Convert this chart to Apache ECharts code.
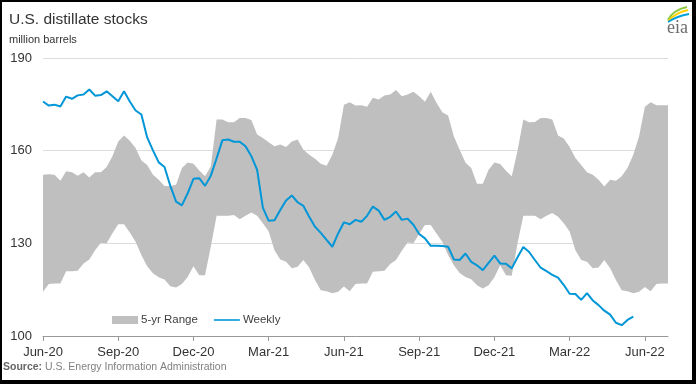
<!DOCTYPE html>
<html><head><meta charset="utf-8">
<script src="https://cdn.jsdelivr.net/npm/echarts@6/dist/echarts.min.js"></script>
<style>
html,body{margin:0;padding:0;background:#fff}
#c{width:696px;height:384px;position:absolute;left:0;top:0}
#f{position:absolute;left:0;top:0;width:696px;height:384px;box-sizing:border-box;border-style:solid;border-color:#000;border-width:2px 4px 4px 2px;pointer-events:none}
</style>
</head><body><div id="c"></div><div id="f"></div>
<script>
const tickLabels = ['Jun-20','Sep-20','Dec-20','Mar-21','Jun-21','Sep-21','Dec-21','Mar-22','Jun-22'];

const weekly = [
175.9,174.6,174.9,174.3,177.5,176.8,177.9,178.2,179.8,177.8,
178,179.2,177.6,176,179.2,175.9,173,171.7,164.3,160.1,
156.2,154.7,148.6,143.5,142.3,146.2,150.9,151.1,148.6,151.9,
157.5,163.4,163.6,162.9,162.9,161.4,158.2,153.8,141.5,137.3,
137.5,140.8,143.9,145.5,143.3,142.1,138.6,135.4,133.4,131.1,
128.9,133.2,136.8,136.2,137.6,137,138.9,141.9,140.6,137.6,
138.6,140.3,137.6,138,136,133,131.6,129.2,129.2,129.1,
128.9,124.8,124.6,126.7,124,122.9,121.3,123.7,126,123.5,
123.4,121.9,125.5,128.8,127.2,124.6,122.1,121,119.8,118.9,
116.5,113.7,113.6,111.7,113.9,111.5,110,108.2,106.9,104.3,
103.5,105.2,106.3
];

const rangeHigh = [
152.2,152.4,152.2,150.3,153.3,153,151.9,153,151.3,153,
153,154.7,158.2,163,164.9,163.2,160.9,156.8,155.4,152.2,
150.6,148.6,148.6,149,154.4,156.2,155.8,153.6,151.7,154.9,
170.1,170.1,169.2,169.2,170.6,170.6,169.9,165.2,164.1,162.7,
161.4,162,161.2,163,163.6,160.3,158.7,157.4,155.8,155.1,
158.7,164.1,174.9,175.7,174.6,174.7,174.2,177.1,176.6,177.9,
178.2,179.6,177.6,178.2,179.1,177.6,175.8,179.1,175.5,172.4,
171.4,164.6,160.3,156.2,154.4,149.3,149.3,153.8,156.2,155.7,
153.5,151.7,160,170.1,169.2,169.3,170.6,170.6,170.1,164.9,
163.9,161.2,157.6,155.4,153,152.2,150.6,148.4,150.6,150.3,
151.7,154.4,158.7,164.6,174.2,175.7,174.7,174.7,174.7
];

const rangeLow = [
114.3,116.8,117,117,121,121,121.1,123.5,124.8,127.8,
130.2,130,133.3,136.2,136.2,133.5,130.5,126.2,122.6,120.3,
119,118.3,116.1,115.7,116.8,119.1,122.6,119.7,119.7,129,
138.9,138.9,138.9,139.2,137.8,138.9,140,138.9,136.5,133.8,
127.8,124.8,124,121.9,122.4,124.6,122.2,118.1,114.8,114.5,
113.8,114.3,116,114.5,116.8,117,117,120.8,121,121.1,
123.3,124.6,127.6,130.3,130,133,135.9,135.9,133.2,130.5,
126.2,122.9,120.4,119.1,118.4,116.4,115.4,116.4,119,122.9,
119.7,119.5,130,138.9,138.9,138.9,137.8,138.9,139.8,138.6,
136.5,133.8,127.8,124.6,124,121.9,122.2,124.6,121.9,118.1,
114.8,114.5,113.8,114.3,115.9,114.5,116.8,117,117
];

const weeks = rangeLow.map((_, i) => String(i));
const bandWidth = rangeHigh.map((h, i) => +(h - rangeLow[i]).toFixed(2));

const FONT = '"Liberation Sans", Arial, sans-serif';
const chart = echarts.init(document.getElementById('c'), null, {renderer: 'canvas'});
chart.setOption({
  animation: false,
  backgroundColor: '#fff',
  textStyle: {fontFamily: FONT},
  title: [
    {text: 'U.S. distillate stocks', left: 9, top: 12, padding: 0,
     textStyle: {fontSize: 15.5, fontWeight: 'normal', color: '#333', fontFamily: FONT}},
    {text: 'million barrels', left: 9, top: 34, padding: 0,
     textStyle: {fontSize: 11, fontWeight: 'normal', color: '#333', fontFamily: FONT}}
  ],
  legend: {
    data: [
      {name: '5-yr Range', icon: 'rect'},
      {name: 'Weekly', icon: 'path://M0,0 M0,3.2 L26,3.2 L26,4.8 L0,4.8 Z M26,8',
       itemStyle: {color: '#0096d7'}}
    ],
    left: 112, top: 314, itemWidth: 26, itemHeight: 8, itemGap: 16,
    padding: 0,
    textStyle: {fontSize: 11.5, color: '#404040', fontFamily: FONT, padding: [0, 0, 0, -2]}
  },
  grid: {left: 43, right: 28, top: 58, bottom: 48, containLabel: false, outerBoundsMode: 'none'},
  xAxis: {
    type: 'category', boundaryGap: false, data: weeks,
    axisLine: {lineStyle: {color: '#999', width: 1}},
    axisTick: {show: true, interval: 12, length: 5, lineStyle: {color: '#999'}},
    axisLabel: {interval: 12, margin: 10, fontSize: 13, color: '#333', fontFamily: FONT,
      formatter: (v, i) => tickLabels[i / 13] || ''},
    splitLine: {show: false}
  },
  yAxis: {
    type: 'value', min: 100, max: 190, interval: 30,
    axisLine: {show: false}, axisTick: {show: false},
    axisLabel: {fontSize: 13, color: '#333', margin: 11, fontFamily: FONT},
    splitLine: {lineStyle: {color: '#dcdcdc', width: 1}}
  },
  series: [
    {name: 'low', type: 'line', stack: 'band', data: rangeLow, symbol: 'none',
     lineStyle: {opacity: 0}, silent: true},
    {name: '5-yr Range', type: 'line', stack: 'band', data: bandWidth, symbol: 'none',
     itemStyle: {color: '#bfbfbf'}, lineStyle: {opacity: 0, width: 0},
     areaStyle: {color: '#bfbfbf', opacity: 1}, silent: true},
    {name: 'Weekly', type: 'line', data: weekly, symbol: 'none', z: 5,
     itemStyle: {color: '#0096d7'}, lineStyle: {color: '#0096d7', width: 2}}
  ],
  graphic: [
    {type: 'text', left: 3, top: 362,
     style: {text: '{b|Source:} U.S. Energy Information Administration',
       font: '10.5px ' + FONT, fill: '#808080',
       rich: {b: {fontWeight: 'bold', fill: '#666', fontSize: 10.5, fontFamily: FONT}}}},
    {type: 'text', left: 667, top: 19,
     style: {text: 'eia', font: '18px "Liberation Serif", serif', fill: '#6d6d6d'}},
    {type: 'bezierCurve', shape: {x1: 668, y1: 20, x2: 687, y2: 7, cpx1: 673, cpy1: 10},
     style: {stroke: '#8dc63f', lineWidth: 1.8, fill: null}},
    {type: 'bezierCurve', shape: {x1: 668, y1: 21, x2: 688, y2: 10, cpx1: 675, cpy1: 13},
     style: {stroke: '#ffd200', lineWidth: 1.8, fill: null}},
    {type: 'bezierCurve', shape: {x1: 668, y1: 22, x2: 689, y2: 14, cpx1: 677, cpy1: 16},
     style: {stroke: '#00a0dc', lineWidth: 1.8, fill: null}}
  ]
});
</script>
</body></html>
